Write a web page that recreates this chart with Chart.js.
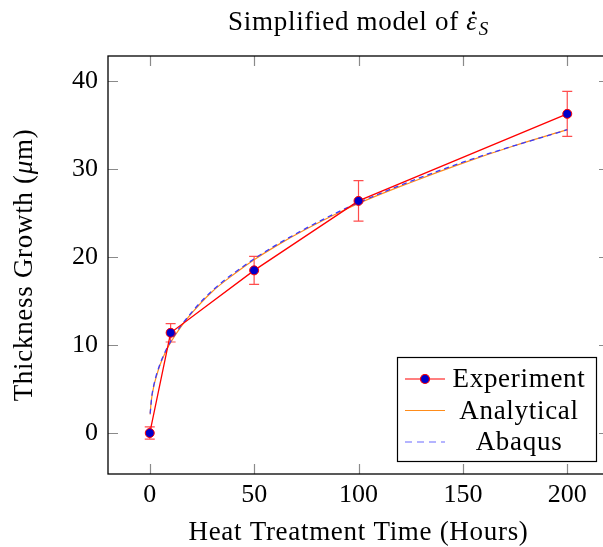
<!DOCTYPE html>
<html>
<head>
<meta charset="utf-8">
<script src="https://cdn.jsdelivr.net/npm/chart.js@4.4.0/dist/chart.umd.min.js"></script>
<style>
  html, body { margin: 0; padding: 0; overflow: hidden; background: #fff; }
  canvas { display: block; }
</style>
</head>
<body>
<canvas id="growthChart" width="620" height="547"></canvas>
<script>
// tick labels
const xTicks = [0, 50, 100, 150, 200];
const yTicks = [0, 10, 20, 30, 40];

// experiment (with error bars)
const expTime = [0, 10, 50, 100, 200];
const expThickness = [0.0, 11.4, 18.5, 26.4, 36.3];
const expError = [0.7, 1.05, 1.6, 2.3, 2.55];

// analytical model
const anaTime = [0.2, 0.5, 1, 2, 3, 5, 7.5, 10, 15, 20, 30, 40, 50, 60, 75, 100, 125, 150, 175, 200];
const anaThickness = [2.1, 3.1, 4.1, 5.4, 6.3, 7.8, 9.2, 10.3, 12.1, 13.6, 16.1, 18.0, 19.7, 21.2, 23.2, 26.1, 28.5, 30.7, 32.7, 34.5];

// abaqus simulation
const abqTime = [0.2, 1, 2, 5, 10, 20, 30, 50, 75, 100, 150, 200];
const abqThickness = [2.2, 4.2, 5.5, 7.9, 10.4, 13.7, 16.2, 19.8, 23.3, 26.2, 30.8, 34.5];

const FONT = 'Liberation Serif';
const FS = 27;       // size of titles / legend text
const SPACING = '0.7px';
const RED = '#ff0000';
const ORANGE = '#ff8c1a';
const BLUE = '#3a3aff';

function pts(xs, ys) {
    return xs.map((x, i) => ({ x: x, y: ys[i] }));
}

function font(size, italic) {
    return (italic ? 'italic ' : '') + size + 'px "' + FONT + '"';
}

// error bars, drawn under the marks
const errorBars = {
    id: 'errorBars',
    beforeDatasetsDraw(chart) {
        const ctx = chart.ctx;
        const xs = chart.scales.x, ys = chart.scales.y;
        ctx.save();
        ctx.strokeStyle = 'rgba(255,0,0,0.7)';
        ctx.lineWidth = 1.2;
        expTime.forEach((t, i) => {
            const px = xs.getPixelForValue(t);
            const top = ys.getPixelForValue(expThickness[i] + expError[i]);
            const bot = ys.getPixelForValue(expThickness[i] - expError[i]);
            ctx.beginPath();
            ctx.moveTo(px, top); ctx.lineTo(px, bot);
            ctx.moveTo(px - 5, top); ctx.lineTo(px + 5, top);
            ctx.moveTo(px - 5, bot); ctx.lineTo(px + 5, bot);
            ctx.stroke();
        });
        ctx.restore();
    }
};

// frame, inward ticks, title, axis titles, legend
const decorations = {
    id: 'decorations',
    afterDraw(chart) {
        const ctx = chart.ctx;
        const a = chart.chartArea;
        const xs = chart.scales.x, ys = chart.scales.y;
        ctx.save();

        // ticks pointing inward
        ctx.strokeStyle = '#8a8a8a';
        ctx.lineWidth = 1.2;
        ctx.beginPath();
        xTicks.forEach(v => {
            const px = Math.round(xs.getPixelForValue(v)) + 0.5;
            ctx.moveTo(px, a.bottom); ctx.lineTo(px, a.bottom - 10);
            ctx.moveTo(px, a.top); ctx.lineTo(px, a.top + 10);
        });
        yTicks.forEach(v => {
            const py = Math.round(ys.getPixelForValue(v)) + 0.5;
            ctx.moveTo(a.left, py); ctx.lineTo(a.left + 10, py);
            ctx.moveTo(a.right, py); ctx.lineTo(a.right - 10, py);
        });
        ctx.stroke();

        // frame
        ctx.strokeStyle = '#000';
        ctx.lineWidth = 1.3;
        ctx.strokeRect(a.left, a.top, a.right - a.left, a.bottom - a.top);

        ctx.fillStyle = '#000';
        ctx.textBaseline = 'alphabetic';
        ctx.letterSpacing = SPACING;

        // title: Simplified model of eps-dot_S
        const cx = (a.left + a.right) / 2;
        const base = 30;
        ctx.font = font(FS);
        const t1 = 'Simplified model of ';
        const w1 = ctx.measureText(t1).width;
        ctx.font = font(FS, true);
        const wEps = ctx.measureText('\u03b5').width;
        ctx.font = font(19, true);
        const wS = ctx.measureText('S').width;
        let x0 = cx - (w1 + wEps + wS + 1) / 2;
        ctx.textAlign = 'left';
        ctx.font = font(FS);
        ctx.fillText(t1, x0, base);
        x0 += w1;
        ctx.font = font(FS, true);
        ctx.fillText('\u03b5', x0, base);
        ctx.beginPath();
        ctx.arc(x0 + wEps / 2 + 1.5, base - 17, 1.7, 0, Math.PI * 2);
        ctx.fill();
        x0 += wEps + 1;
        ctx.font = font(19, true);
        ctx.fillText('S', x0, base + 5);

        // x title
        ctx.font = font(FS);
        ctx.textAlign = 'center';
        ctx.fillText('Heat Treatment Time (Hours)', cx, 540);

        // y title, rotated, with italic mu
        ctx.save();
        ctx.translate(32, (a.top + a.bottom) / 2);
        ctx.rotate(-Math.PI / 2);
        const p1 = 'Thickness Growth (', p3 = 'm)';
        ctx.font = font(FS);
        const wp1 = ctx.measureText(p1).width, wp3 = ctx.measureText(p3).width;
        ctx.font = font(FS, true);
        const wp2 = ctx.measureText('\u03bc').width;
        let yx = -(wp1 + wp2 + wp3) / 2;
        ctx.textAlign = 'left';
        ctx.font = font(FS);
        ctx.fillText(p1, yx, 0);
        yx += wp1;
        ctx.font = font(FS, true);
        ctx.fillText('\u03bc', yx, 0);
        yx += wp2;
        ctx.font = font(FS);
        ctx.fillText(p3, yx, 0);
        ctx.restore();

        // legend box
        const lx = 397, ly = 357, lw = 199, lh = 104;
        ctx.fillStyle = '#fff';
        ctx.fillRect(lx, ly, lw, lh);
        ctx.strokeStyle = '#000';
        ctx.lineWidth = 1.2;
        ctx.strokeRect(lx + 0.5, ly + 0.5, lw, lh);

        const rows = [
            { label: 'Experiment', y: 379, color: RED, dash: [], marker: true },
            { label: 'Analytical', y: 410.5, color: ORANGE, dash: [], marker: false },
            { label: 'Abaqus', y: 442, color: 'rgba(58,58,255,0.75)', dash: [7, 5], marker: false }
        ];
        rows.forEach(r => {
            ctx.strokeStyle = r.color;
            ctx.lineWidth = 1.2;
            ctx.setLineDash(r.dash);
            ctx.beginPath();
            ctx.moveTo(405, r.y); ctx.lineTo(445, r.y);
            ctx.stroke();
            ctx.setLineDash([]);
            if (r.marker) {
                ctx.beginPath();
                ctx.arc(425, r.y, 4.5, 0, Math.PI * 2);
                ctx.fillStyle = '#0000cc';
                ctx.fill();
                ctx.strokeStyle = RED;
                ctx.stroke();
            }
            ctx.fillStyle = '#000';
            ctx.font = font(FS);
            ctx.textAlign = 'center';
            ctx.fillText(r.label, 519, r.y + 8);
        });

        ctx.restore();
    }
};

const ctx = document.getElementById('growthChart').getContext('2d');
const growthChart = new Chart(ctx, {
    type: 'line',
    data: {
        datasets: [{
            label: 'Experiment',
            data: pts(expTime, expThickness),
            borderColor: RED,
            borderWidth: 1.3,
            backgroundColor: '#0000cc',
            pointBackgroundColor: '#0000cc',
            pointBorderColor: RED,
            pointBorderWidth: 1,
            pointRadius: 4.5,
            tension: 0,
            order: 0
        }, {
            label: 'Abaqus',
            data: pts(abqTime, abqThickness),
            borderColor: BLUE,
            borderWidth: 1.3,
            borderDash: [5, 4],
            pointRadius: 0,
            cubicInterpolationMode: 'monotone',
            order: 1
        }, {
            label: 'Analytical',
            data: pts(anaTime, anaThickness),
            borderColor: ORANGE,
            borderWidth: 1.2,
            pointRadius: 0,
            cubicInterpolationMode: 'monotone',
            order: 2
        }]
    },
    options: {
        responsive: false,
        animation: false,
        events: [],
        layout: { padding: { top: 56, right: 11, left: 0, bottom: 0 } },
        plugins: {
            legend: { display: false },
            tooltip: { enabled: false },
            title: { display: false }
        },
        scales: {
            x: {
                type: 'linear',
                min: -20,
                max: 220,
                afterFit: s => { s.height = 73; },
                afterBuildTicks: s => { s.ticks = xTicks.map(v => ({ value: v })); },
                grid: { display: true, drawOnChartArea: false, drawTicks: false },
                border: { display: false },
                ticks: {
                    padding: 6,
                    color: '#000',
                    maxRotation: 0,
                    font: { family: FONT, size: 26 },
                    callback: v => String(v)
                }
            },
            y: {
                type: 'linear',
                min: -4.66,
                max: 42.88,
                afterFit: s => { s.width = 108; },
                afterBuildTicks: s => { s.ticks = yTicks.map(v => ({ value: v })); },
                grid: { display: true, drawOnChartArea: false, drawTicks: false },
                border: { display: false },
                ticks: {
                    padding: 10,
                    color: '#000',
                    font: { family: FONT, size: 26 },
                    callback: v => String(v)
                }
            }
        }
    },
    plugins: [errorBars, decorations]
});
</script>
</body>
</html>
